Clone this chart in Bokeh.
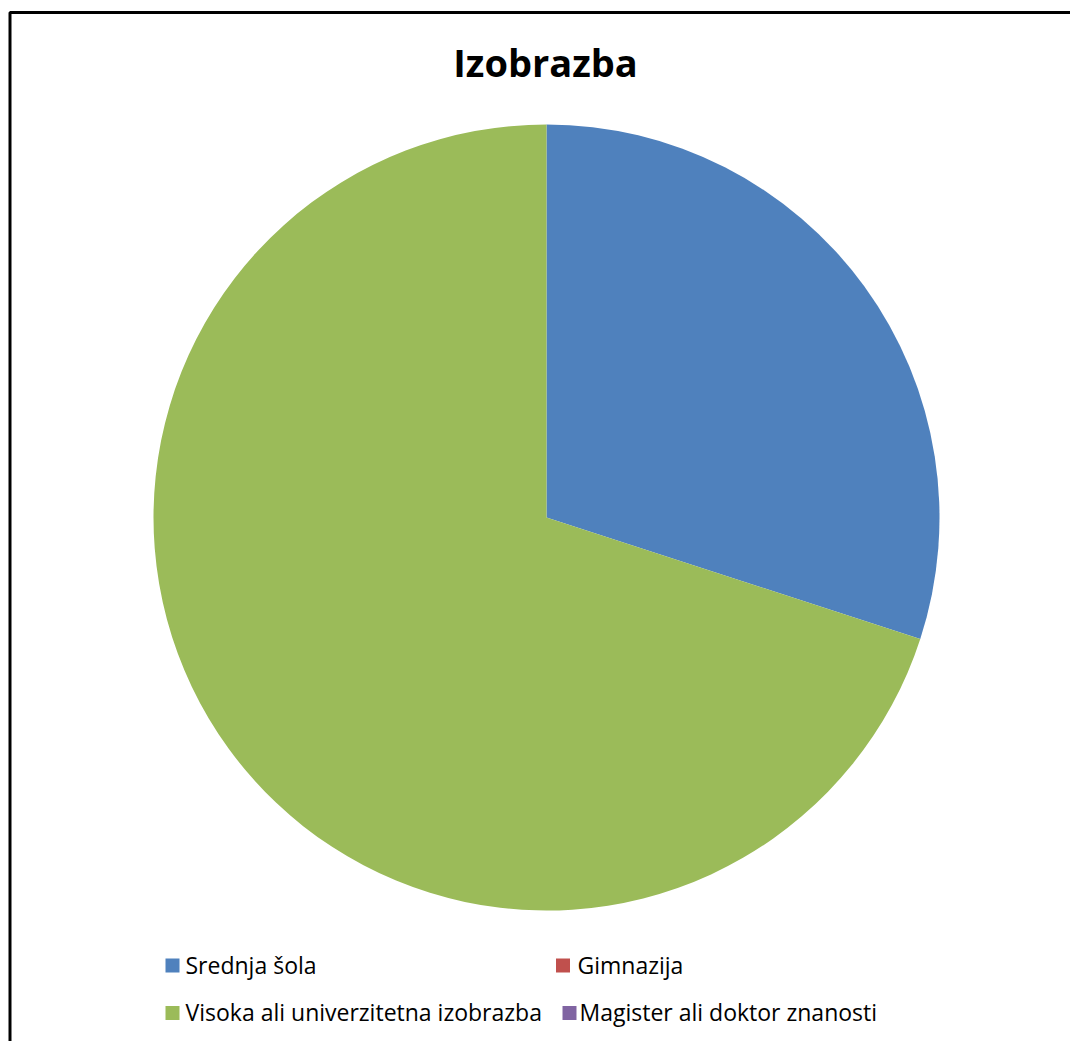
import math
from bokeh.plotting import figure
from bokeh.models import Range1d, ColumnDataSource
from bokeh.core.properties import value
from bokeh.embed import file_html
from bokeh.resources import INLINE

# ---- data ----
title_text = "Izobrazba"
categories = ["Srednja šola", "Gimnazija", "Visoka ali univerzitetna izobrazba", "Magister ali doktor znanosti"]
values = [3, 0, 7, 0]
colors = ["#4F81BD", "#C0504D", "#9BBB59", "#8064A2"]

W, H = 1070, 1041
p = figure(width=W, height=H, output_backend="svg", toolbar_location=None,
           x_range=Range1d(0, W), y_range=Range1d(0, H), min_border=0)
p.axis.visible = False
p.grid.visible = False
p.outline_line_color = None
p.background_fill_color = "white"
p.border_fill_color = "white"

def Y(py):
    return H - py

# chart border (extends beyond the window on right/bottom)
p.quad(left=[9.5], right=[1300], top=[Y(12)], bottom=[-200],
       fill_alpha=0, line_color="black", line_width=3)

# pie
total = float(sum(values))
starts, ends, cols = [], [], []
cum = 0.0
for v, c in zip(values, colors):
    a0 = math.pi / 2 - 2 * math.pi * cum / total
    cum += v
    a1 = math.pi / 2 - 2 * math.pi * cum / total
    if v > 0:
        starts.append(a0); ends.append(a1); cols.append(c)
src = ColumnDataSource(dict(start=starts, end=ends, color=cols))
p.wedge(x=546, y=Y(517), radius=393, start_angle="start", end_angle="end",
        direction="clock", fill_color="color", line_color=None, source=src)

# title
p.text(x=[545], y=[Y(61)], text=[title_text], text_font=value("Open Sans"),
       text_font_style="bold", text_font_size="38px", text_align="center",
       text_baseline="middle", text_color="black")

# legend
sq_x = [172, 562.5, 172, 569]
sq_y = [965, 965, 1012.5, 1012.5]
tx_x = [185, 577, 185, 579]
p.rect(x=sq_x, y=[Y(v) for v in sq_y], width=14, height=14,
       fill_color=colors, line_color=None)
p.text(x=tx_x, y=[Y(v - 1) for v in sq_y], text=categories, text_font=value("Open Sans"),
       text_font_size="23px", text_align="left", text_baseline="middle", text_color="black")

open("out.html", "w").write(file_html(p, INLINE))
